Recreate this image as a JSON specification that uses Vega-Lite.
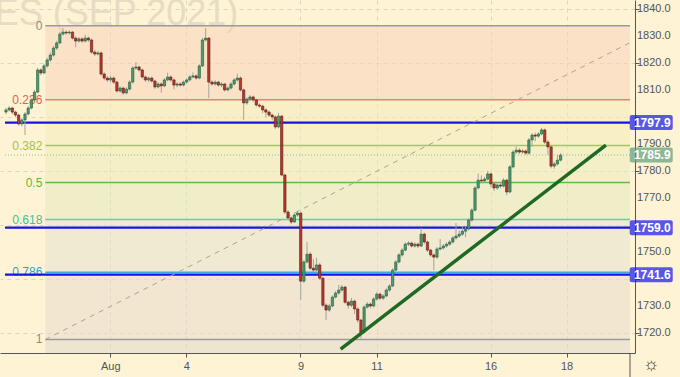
{
"$schema":"https://vega.github.io/schema/vega-lite/v6.json",
"width":635,"height":353,
"autosize":{"type":"none"},
"padding":{"left":0,"top":0,"right":45,"bottom":24},
"background":"#fef3d4",
"config":{"view":{"stroke":null},"font":"Liberation Sans","axis":{"labelOverlap":false,"labelBound":false,"labelFlush":false}},
"datasets":{
"candles":[
{"i":0,"o":1801.8,"h":1803.4,"l":1801.0,"c":1802.6},
{"i":1,"o":1802.6,"h":1804.0,"l":1802.0,"c":1803.3},
{"i":2,"o":1803.3,"h":1803.8,"l":1801.0,"c":1801.8},
{"i":3,"o":1801.8,"h":1802.3,"l":1800.0,"c":1800.7},
{"i":4,"o":1800.7,"h":1801.2,"l":1796.8,"c":1797.4},
{"i":5,"o":1797.4,"h":1799.5,"l":1796.5,"c":1798.9},
{"i":6,"o":1798.9,"h":1801.8,"l":1793.3,"c":1801.1},
{"i":7,"o":1801.1,"h":1804.0,"l":1800.5,"c":1803.3},
{"i":8,"o":1803.3,"h":1807.0,"l":1802.8,"c":1806.3},
{"i":9,"o":1806.3,"h":1810.0,"l":1805.8,"c":1809.2},
{"i":10,"o":1809.2,"h":1818.2,"l":1808.8,"c":1817.4},
{"i":11,"o":1817.4,"h":1818.0,"l":1815.5,"c":1816.3},
{"i":12,"o":1816.3,"h":1819.6,"l":1815.8,"c":1818.9},
{"i":13,"o":1818.9,"h":1821.9,"l":1818.2,"c":1821.1},
{"i":14,"o":1821.1,"h":1823.8,"l":1820.5,"c":1822.9},
{"i":15,"o":1822.9,"h":1826.3,"l":1822.3,"c":1825.5},
{"i":16,"o":1825.5,"h":1828.2,"l":1824.8,"c":1827.4},
{"i":17,"o":1827.4,"h":1831.5,"l":1827.0,"c":1830.7},
{"i":18,"o":1830.7,"h":1832.9,"l":1830.1,"c":1831.4},
{"i":19,"o":1831.4,"h":1832.0,"l":1830.4,"c":1831.1},
{"i":20,"o":1831.1,"h":1832.0,"l":1830.5,"c":1831.4},
{"i":21,"o":1831.4,"h":1831.8,"l":1828.6,"c":1829.2},
{"i":22,"o":1829.2,"h":1829.8,"l":1825.8,"c":1828.1},
{"i":23,"o":1828.1,"h":1829.6,"l":1827.5,"c":1828.9},
{"i":24,"o":1828.9,"h":1829.5,"l":1827.4,"c":1828.1},
{"i":25,"o":1828.1,"h":1830.4,"l":1827.6,"c":1829.2},
{"i":26,"o":1829.2,"h":1829.8,"l":1827.8,"c":1828.5},
{"i":27,"o":1828.5,"h":1829.0,"l":1823.4,"c":1824.0},
{"i":28,"o":1824.0,"h":1824.8,"l":1822.6,"c":1823.3},
{"i":29,"o":1823.3,"h":1824.4,"l":1822.8,"c":1823.7},
{"i":30,"o":1823.7,"h":1824.2,"l":1815.2,"c":1815.9},
{"i":31,"o":1815.9,"h":1816.5,"l":1813.6,"c":1814.4},
{"i":32,"o":1814.4,"h":1815.2,"l":1813.0,"c":1813.7},
{"i":33,"o":1813.7,"h":1815.1,"l":1812.8,"c":1814.4},
{"i":34,"o":1814.4,"h":1815.0,"l":1812.2,"c":1812.9},
{"i":35,"o":1812.9,"h":1813.4,"l":1809.0,"c":1809.6},
{"i":36,"o":1809.6,"h":1811.4,"l":1809.0,"c":1810.7},
{"i":37,"o":1810.7,"h":1811.2,"l":1808.2,"c":1808.9},
{"i":38,"o":1808.9,"h":1811.0,"l":1808.3,"c":1810.3},
{"i":39,"o":1810.3,"h":1813.6,"l":1809.8,"c":1812.9},
{"i":40,"o":1812.9,"h":1818.8,"l":1812.4,"c":1818.1},
{"i":41,"o":1818.1,"h":1820.3,"l":1817.5,"c":1818.5},
{"i":42,"o":1818.5,"h":1819.0,"l":1816.8,"c":1817.4},
{"i":43,"o":1817.4,"h":1817.9,"l":1814.2,"c":1814.8},
{"i":44,"o":1814.8,"h":1815.4,"l":1813.0,"c":1813.7},
{"i":45,"o":1813.7,"h":1815.0,"l":1812.9,"c":1814.4},
{"i":46,"o":1814.4,"h":1815.0,"l":1812.6,"c":1813.3},
{"i":47,"o":1813.3,"h":1813.8,"l":1810.4,"c":1811.1},
{"i":48,"o":1811.1,"h":1812.9,"l":1810.5,"c":1812.2},
{"i":49,"o":1812.2,"h":1812.8,"l":1809.0,"c":1811.5},
{"i":50,"o":1811.5,"h":1814.4,"l":1811.0,"c":1813.7},
{"i":51,"o":1813.7,"h":1816.4,"l":1813.2,"c":1814.8},
{"i":52,"o":1814.8,"h":1815.4,"l":1813.0,"c":1813.7},
{"i":53,"o":1813.7,"h":1814.2,"l":1810.2,"c":1811.8},
{"i":54,"o":1811.8,"h":1812.9,"l":1811.0,"c":1812.2},
{"i":55,"o":1812.2,"h":1812.8,"l":1811.2,"c":1811.8},
{"i":56,"o":1811.8,"h":1813.5,"l":1811.3,"c":1812.9},
{"i":57,"o":1812.9,"h":1814.3,"l":1812.4,"c":1813.7},
{"i":58,"o":1813.7,"h":1815.5,"l":1813.2,"c":1814.8},
{"i":59,"o":1814.8,"h":1816.5,"l":1814.3,"c":1815.2},
{"i":60,"o":1815.2,"h":1815.8,"l":1813.8,"c":1814.4},
{"i":61,"o":1814.4,"h":1819.5,"l":1814.0,"c":1818.9},
{"i":62,"o":1818.9,"h":1829.3,"l":1818.5,"c":1828.5},
{"i":63,"o":1828.5,"h":1832.9,"l":1828.0,"c":1829.2},
{"i":64,"o":1829.2,"h":1829.6,"l":1807.0,"c":1812.9},
{"i":65,"o":1812.9,"h":1813.6,"l":1811.5,"c":1812.2},
{"i":66,"o":1812.2,"h":1813.6,"l":1811.6,"c":1812.9},
{"i":67,"o":1812.9,"h":1813.4,"l":1811.2,"c":1811.8},
{"i":68,"o":1811.8,"h":1812.9,"l":1811.0,"c":1812.2},
{"i":69,"o":1812.2,"h":1812.6,"l":1809.4,"c":1810.0},
{"i":70,"o":1810.0,"h":1811.4,"l":1809.5,"c":1810.7},
{"i":71,"o":1810.7,"h":1813.0,"l":1810.2,"c":1812.2},
{"i":72,"o":1812.2,"h":1814.4,"l":1811.6,"c":1813.7},
{"i":73,"o":1813.7,"h":1816.0,"l":1813.0,"c":1814.4},
{"i":74,"o":1814.4,"h":1815.0,"l":1809.4,"c":1810.0},
{"i":75,"o":1810.0,"h":1810.5,"l":1798.9,"c":1805.2},
{"i":76,"o":1805.2,"h":1807.3,"l":1804.5,"c":1806.6},
{"i":77,"o":1806.6,"h":1808.1,"l":1806.0,"c":1807.4},
{"i":78,"o":1807.4,"h":1807.9,"l":1805.6,"c":1806.3},
{"i":79,"o":1806.3,"h":1806.8,"l":1803.8,"c":1804.4},
{"i":80,"o":1804.4,"h":1805.0,"l":1803.3,"c":1804.0},
{"i":81,"o":1804.0,"h":1804.5,"l":1801.4,"c":1802.6},
{"i":82,"o":1802.6,"h":1803.2,"l":1800.0,"c":1801.8},
{"i":83,"o":1801.8,"h":1802.4,"l":1800.0,"c":1800.7},
{"i":84,"o":1800.7,"h":1801.2,"l":1798.8,"c":1800.0},
{"i":85,"o":1800.0,"h":1800.5,"l":1795.6,"c":1796.3},
{"i":86,"o":1796.3,"h":1801.5,"l":1795.8,"c":1800.3},
{"i":87,"o":1800.3,"h":1800.8,"l":1778.0,"c":1778.5},
{"i":88,"o":1778.5,"h":1779.0,"l":1764.0,"c":1764.8},
{"i":89,"o":1764.8,"h":1765.5,"l":1762.0,"c":1762.6},
{"i":90,"o":1762.6,"h":1763.2,"l":1760.4,"c":1761.1},
{"i":91,"o":1761.1,"h":1764.6,"l":1760.8,"c":1763.7},
{"i":92,"o":1763.7,"h":1765.3,"l":1763.0,"c":1764.4},
{"i":93,"o":1764.4,"h":1764.9,"l":1732.2,"c":1739.2},
{"i":94,"o":1739.2,"h":1747.0,"l":1738.5,"c":1746.3},
{"i":95,"o":1746.3,"h":1753.7,"l":1745.8,"c":1749.2},
{"i":96,"o":1749.2,"h":1750.0,"l":1743.4,"c":1744.0},
{"i":97,"o":1744.0,"h":1747.4,"l":1742.6,"c":1743.3},
{"i":98,"o":1743.3,"h":1748.0,"l":1742.8,"c":1745.2},
{"i":99,"o":1745.2,"h":1746.0,"l":1739.6,"c":1740.3},
{"i":100,"o":1740.3,"h":1740.8,"l":1729.5,"c":1730.3},
{"i":101,"o":1730.3,"h":1731.0,"l":1724.8,"c":1728.5},
{"i":102,"o":1728.5,"h":1730.8,"l":1727.8,"c":1730.0},
{"i":103,"o":1730.0,"h":1734.0,"l":1729.5,"c":1733.3},
{"i":104,"o":1733.3,"h":1735.5,"l":1732.8,"c":1734.8},
{"i":105,"o":1734.8,"h":1737.8,"l":1734.2,"c":1735.9},
{"i":106,"o":1735.9,"h":1737.8,"l":1735.4,"c":1737.0},
{"i":107,"o":1737.0,"h":1737.5,"l":1730.8,"c":1731.4},
{"i":108,"o":1731.4,"h":1732.0,"l":1729.0,"c":1730.3},
{"i":109,"o":1730.3,"h":1733.0,"l":1729.6,"c":1731.8},
{"i":110,"o":1731.8,"h":1732.4,"l":1727.0,"c":1728.9},
{"i":111,"o":1728.9,"h":1729.5,"l":1723.8,"c":1724.8},
{"i":112,"o":1724.8,"h":1725.3,"l":1718.1,"c":1720.3},
{"i":113,"o":1720.3,"h":1730.3,"l":1719.8,"c":1729.6},
{"i":114,"o":1729.6,"h":1731.4,"l":1729.0,"c":1730.7},
{"i":115,"o":1730.7,"h":1731.3,"l":1729.2,"c":1730.0},
{"i":116,"o":1730.0,"h":1733.3,"l":1729.5,"c":1732.6},
{"i":117,"o":1732.6,"h":1735.1,"l":1732.0,"c":1734.4},
{"i":118,"o":1734.4,"h":1735.0,"l":1732.2,"c":1732.9},
{"i":119,"o":1732.9,"h":1734.4,"l":1732.3,"c":1733.7},
{"i":120,"o":1733.7,"h":1736.6,"l":1733.2,"c":1735.9},
{"i":121,"o":1735.9,"h":1738.1,"l":1735.3,"c":1737.4},
{"i":122,"o":1737.4,"h":1744.0,"l":1737.0,"c":1743.3},
{"i":123,"o":1743.3,"h":1747.0,"l":1742.8,"c":1746.3},
{"i":124,"o":1746.3,"h":1749.6,"l":1745.8,"c":1748.9},
{"i":125,"o":1748.9,"h":1751.4,"l":1748.3,"c":1750.7},
{"i":126,"o":1750.7,"h":1753.6,"l":1750.2,"c":1752.9},
{"i":127,"o":1752.9,"h":1754.0,"l":1752.2,"c":1753.3},
{"i":128,"o":1753.3,"h":1753.9,"l":1751.6,"c":1752.2},
{"i":129,"o":1752.2,"h":1753.6,"l":1751.6,"c":1752.9},
{"i":130,"o":1752.9,"h":1753.5,"l":1751.5,"c":1752.2},
{"i":131,"o":1752.2,"h":1758.9,"l":1751.8,"c":1756.6},
{"i":132,"o":1756.6,"h":1757.2,"l":1753.0,"c":1753.7},
{"i":133,"o":1753.7,"h":1754.2,"l":1750.0,"c":1750.7},
{"i":134,"o":1750.7,"h":1751.2,"l":1748.2,"c":1748.9},
{"i":135,"o":1748.9,"h":1749.5,"l":1743.3,"c":1748.1},
{"i":136,"o":1748.1,"h":1751.8,"l":1747.5,"c":1751.1},
{"i":137,"o":1751.1,"h":1754.8,"l":1750.6,"c":1751.5},
{"i":138,"o":1751.5,"h":1752.9,"l":1750.9,"c":1752.2},
{"i":139,"o":1752.2,"h":1753.6,"l":1751.6,"c":1752.9},
{"i":140,"o":1752.9,"h":1754.4,"l":1752.3,"c":1753.7},
{"i":141,"o":1753.7,"h":1755.9,"l":1753.1,"c":1755.2},
{"i":142,"o":1755.2,"h":1760.7,"l":1754.6,"c":1755.9},
{"i":143,"o":1755.9,"h":1758.0,"l":1755.3,"c":1756.6},
{"i":144,"o":1756.6,"h":1759.5,"l":1756.0,"c":1757.7},
{"i":145,"o":1757.7,"h":1759.2,"l":1755.5,"c":1758.5},
{"i":146,"o":1758.5,"h":1762.5,"l":1758.0,"c":1761.8},
{"i":147,"o":1761.8,"h":1766.2,"l":1761.3,"c":1765.5},
{"i":148,"o":1765.5,"h":1774.4,"l":1765.0,"c":1773.7},
{"i":149,"o":1773.7,"h":1779.0,"l":1773.2,"c":1776.6},
{"i":150,"o":1776.6,"h":1778.4,"l":1775.4,"c":1776.3},
{"i":151,"o":1776.3,"h":1777.8,"l":1775.6,"c":1777.0},
{"i":152,"o":1777.0,"h":1780.0,"l":1776.5,"c":1778.9},
{"i":153,"o":1778.9,"h":1779.4,"l":1774.0,"c":1775.2},
{"i":154,"o":1775.2,"h":1776.0,"l":1772.6,"c":1773.7},
{"i":155,"o":1773.7,"h":1775.5,"l":1773.0,"c":1774.8},
{"i":156,"o":1774.8,"h":1775.6,"l":1773.6,"c":1774.4},
{"i":157,"o":1774.4,"h":1777.3,"l":1773.9,"c":1776.6},
{"i":158,"o":1776.6,"h":1777.1,"l":1771.0,"c":1772.2},
{"i":159,"o":1772.2,"h":1782.2,"l":1771.8,"c":1781.5},
{"i":160,"o":1781.5,"h":1787.7,"l":1781.0,"c":1787.0},
{"i":161,"o":1787.0,"h":1789.0,"l":1786.3,"c":1787.7},
{"i":162,"o":1787.7,"h":1788.4,"l":1786.3,"c":1787.0},
{"i":163,"o":1787.0,"h":1788.1,"l":1786.4,"c":1787.4},
{"i":164,"o":1787.4,"h":1788.0,"l":1786.0,"c":1786.6},
{"i":165,"o":1786.6,"h":1792.2,"l":1786.1,"c":1791.5},
{"i":166,"o":1791.5,"h":1794.0,"l":1789.0,"c":1793.3},
{"i":167,"o":1793.3,"h":1794.2,"l":1791.0,"c":1792.9},
{"i":168,"o":1792.9,"h":1794.4,"l":1792.3,"c":1793.7},
{"i":169,"o":1793.7,"h":1795.9,"l":1793.2,"c":1795.2},
{"i":170,"o":1795.2,"h":1795.7,"l":1790.0,"c":1790.7},
{"i":171,"o":1790.7,"h":1791.4,"l":1786.0,"c":1788.9},
{"i":172,"o":1788.9,"h":1789.4,"l":1781.0,"c":1781.8},
{"i":173,"o":1781.8,"h":1783.3,"l":1780.8,"c":1782.6},
{"i":174,"o":1782.6,"h":1786.0,"l":1782.0,"c":1784.0},
{"i":175,"o":1784.0,"h":1786.6,"l":1783.5,"c":1785.9}
],
"zones":[
{"z":"a","top":1833.8,"bot":1806.4},
{"z":"b","top":1806.4,"bot":1789.4},
{"z":"c","top":1789.4,"bot":1775.7},
{"z":"d","top":1775.7,"bot":1762.0},
{"z":"e","top":1762.0,"bot":1742.5},
{"z":"f","top":1742.5,"bot":1717.6},
{"z":"g","top":1717.6,"bot":1700.0}
],
"fib":[
{"lvl":"0","p":1833.8},
{"lvl":"0.236","p":1806.4},
{"lvl":"0.382","p":1789.4},
{"lvl":"0.5","p":1775.7},
{"lvl":"0.618","p":1762.0},
{"lvl":"0.786","p":1742.5},
{"lvl":"1","p":1717.6}
],
"levels":[{"p":1797.9,"label":"1797.9","kind":"level"},{"p":1759.0,"label":"1759.0","kind":"level"},{"p":1741.6,"label":"1741.6","kind":"level"},{"p":1785.9,"label":"1785.9","kind":"last"}],
"ticks":[{"p":1720},{"p":1730},{"p":1740},{"p":1750},{"p":1760},{"p":1770},{"p":1780},{"p":1790},{"p":1800},{"p":1810},{"p":1820},{"p":1830},{"p":1840}],
"segs":[
{"name":"diag","x1":12.42,"p1":1717.6,"x2":196.9,"p2":1827.5},
{"name":"trend","x1":105.6,"p1":1714.0,"x2":189.3,"p2":1789.6}
]
},
"layer":[
{"data":{"values":[{"t":"FUTURES (SEP 2021)","x":73.3,"p":1834.0}]},
 "mark":{"type":"text","align":"right","baseline":"alphabetic","fontSize":36,"color":"#e6dcc3","clip":true},
 "encoding":{"x":{"field":"x","type":"quantitative","scale":{"domain":[-0.31,196.9],"nice":false,"zero":false},
   "axis":{"orient":"bottom","values":[32.92,56.93,92.92,116.93,152.92,176.9],"labelExpr":"datum.value<40?'Aug':datum.value<60?'4':datum.value<100?'9':datum.value<120?'11':datum.value<160?'16':'18'","title":null,"grid":true,"gridDash":[4,4],"gridColor":"#ddd5c3","domainColor":"#555555","tickColor":"#555555","tickSize":4,"labelColor":"#555555","labelFontSize":11,"labelPadding":3,"labelFont":"Liberation Sans"}},
   "y":{"field":"p","type":"quantitative","scale":{"domain":[1712.6,1843.3],"nice":false,"zero":false},
   "axis":{"orient":"right","values":[1720,1730,1740,1750,1760,1770,1780,1790,1800,1810,1820,1830,1840],"labels":false,"title":null,"grid":true,"gridDash":[4,4],"gridColor":"#ddd5c3","domainColor":"#555555","tickColor":"#555555","tickSize":4}},
   "text":{"field":"t"}}},
{"data":{"name":"ticks"},
 "transform":[{"filter":"datum.p!=1800&&datum.p!=1760&&datum.p!=1740"}],
 "mark":{"type":"text","align":"left","baseline":"middle","fontSize":11,"color":"#555555","dx":7},
 "encoding":{"x":{"datum":196.9},"y":{"field":"p","type":"quantitative"},"text":{"field":"p","type":"quantitative","format":".1f"}}},
{"data":{"name":"zones"},
 "mark":{"type":"rect","opacity":0.5,"clip":true},
 "encoding":{"x":{"datum":12.42},"x2":{"datum":196.9},"y":{"field":"top","type":"quantitative"},"y2":{"field":"bot"},
   "color":{"field":"z","type":"nominal","legend":null,"scale":{"domain":["a","b","c","d","e","f","g"],"range":["#f8d1b8","#f4ebba","#eaebb8","#e2e7be","#e2e1ce","#e8d9cc","#e0d5cc"]}}}},
{"data":{"name":"fib"},
 "mark":{"type":"rule","strokeWidth":1.5},
 "encoding":{"x":{"datum":12.42},"x2":{"datum":196.9},"y":{"field":"p","type":"quantitative"},
   "color":{"field":"lvl","type":"nominal","legend":null,"scale":{"domain":["0","0.236","0.382","0.5","0.618","0.786","1"],"range":["#9a9a9a","#e8826f","#a7c853","#5cbf44","#55d6a6","#3fa9de","#9a9a9a"]}}}},
{"data":{"name":"fib"},
 "mark":{"type":"text","align":"right","baseline":"middle","dx":-3,"fontSize":12},
 "encoding":{"x":{"datum":12.42},"y":{"field":"p","type":"quantitative"},"text":{"field":"lvl"},
   "color":{"field":"lvl","type":"nominal","legend":null,"scale":{"domain":["0","0.236","0.382","0.5","0.618","0.786","1"],"range":["#8a8a8a","#e5604f","#a3c340","#4cc03a","#2fc99a","#2ba3d9","#8a8a8a"]}}}},
{"data":{"name":"levels"},
 "transform":[{"filter":"datum.kind=='level'"}],
 "mark":{"type":"rule","strokeWidth":2.2,"color":"#1414e6"},
 "encoding":{"x":{"datum":-0.31},"x2":{"datum":196.9},"y":{"field":"p","type":"quantitative"}}},
{"data":{"name":"levels"},
 "transform":[{"filter":"datum.kind=='last'"}],
 "mark":{"type":"rule","strokeWidth":1,"color":"#8fbf90","strokeDash":[1,2]},
 "encoding":{"x":{"datum":-0.31},"x2":{"datum":196.9},"y":{"field":"p","type":"quantitative"}}},
{"data":{"name":"segs"},
 "transform":[{"filter":"datum.name=='diag'"}],
 "mark":{"type":"rule","strokeWidth":1,"color":"#a8a49a","strokeDash":[5,5]},
 "encoding":{"x":{"field":"x1","type":"quantitative"},"x2":{"field":"x2"},"y":{"field":"p1","type":"quantitative"},"y2":{"field":"p2"}}},
{"data":{"name":"candles"},
 "mark":{"type":"rule","strokeWidth":1,"color":"#a3a39b"},
 "encoding":{"x":{"field":"i","type":"quantitative"},"y":{"field":"l","type":"quantitative"},"y2":{"field":"h"}}},
{"data":{"name":"candles"},
 "mark":{"type":"bar","width":2.3,"strokeWidth":0.6},
 "encoding":{"x":{"field":"i","type":"quantitative"},"y":{"field":"o","type":"quantitative"},"y2":{"field":"c"},
   "fill":{"condition":{"test":"datum.c>=datum.o","value":"#4f9a70"},"value":"#b73a2d"},
   "stroke":{"condition":{"test":"datum.c>=datum.o","value":"#1f5b3a"},"value":"#5e1a12"}}},
{"data":{"name":"segs"},
 "transform":[{"filter":"datum.name=='trend'"}],
 "mark":{"type":"rule","strokeWidth":3.5,"color":"#1f6a22","strokeCap":"butt"},
 "encoding":{"x":{"field":"x1","type":"quantitative"},"x2":{"field":"x2"},"y":{"field":"p1","type":"quantitative"},"y2":{"field":"p2"}}},
{"data":{"name":"levels"},
 "mark":{"type":"tick","orient":"horizontal","thickness":15,"size":43,"cornerRadius":2},
 "encoding":{"x":{"datum":203.6},"y":{"field":"p","type":"quantitative"},
   "color":{"field":"kind","type":"nominal","legend":null,"scale":{"domain":["level","last"],"range":["#1414f0","#5f9c7c"]}}}},
{"data":{"name":"levels"},
 "mark":{"type":"text","align":"center","baseline":"middle","fontSize":12,"fontWeight":"bold","color":"#ffffff","dx":1},
 "encoding":{"x":{"datum":203.6},"y":{"field":"p","type":"quantitative"},"text":{"field":"label"}}},
{"data":{"values":[{"g":"☼","p":1708.1}]},
 "mark":{"type":"text","align":"center","baseline":"middle","fontSize":18,"color":"#333333"},
 "encoding":{"x":{"datum":203.6},"y":{"field":"p","type":"quantitative"},"text":{"field":"g"}}},
{"data":{"values":[{"p1":1712.6,"p2":1703.4}]},
 "mark":{"type":"rule","strokeWidth":1,"color":"#555555"},
 "encoding":{"x":{"datum":196.9},"y":{"field":"p1","type":"quantitative"},"y2":{"field":"p2"}}}
],
"resolve":{"scale":{"color":"independent"}}
}
